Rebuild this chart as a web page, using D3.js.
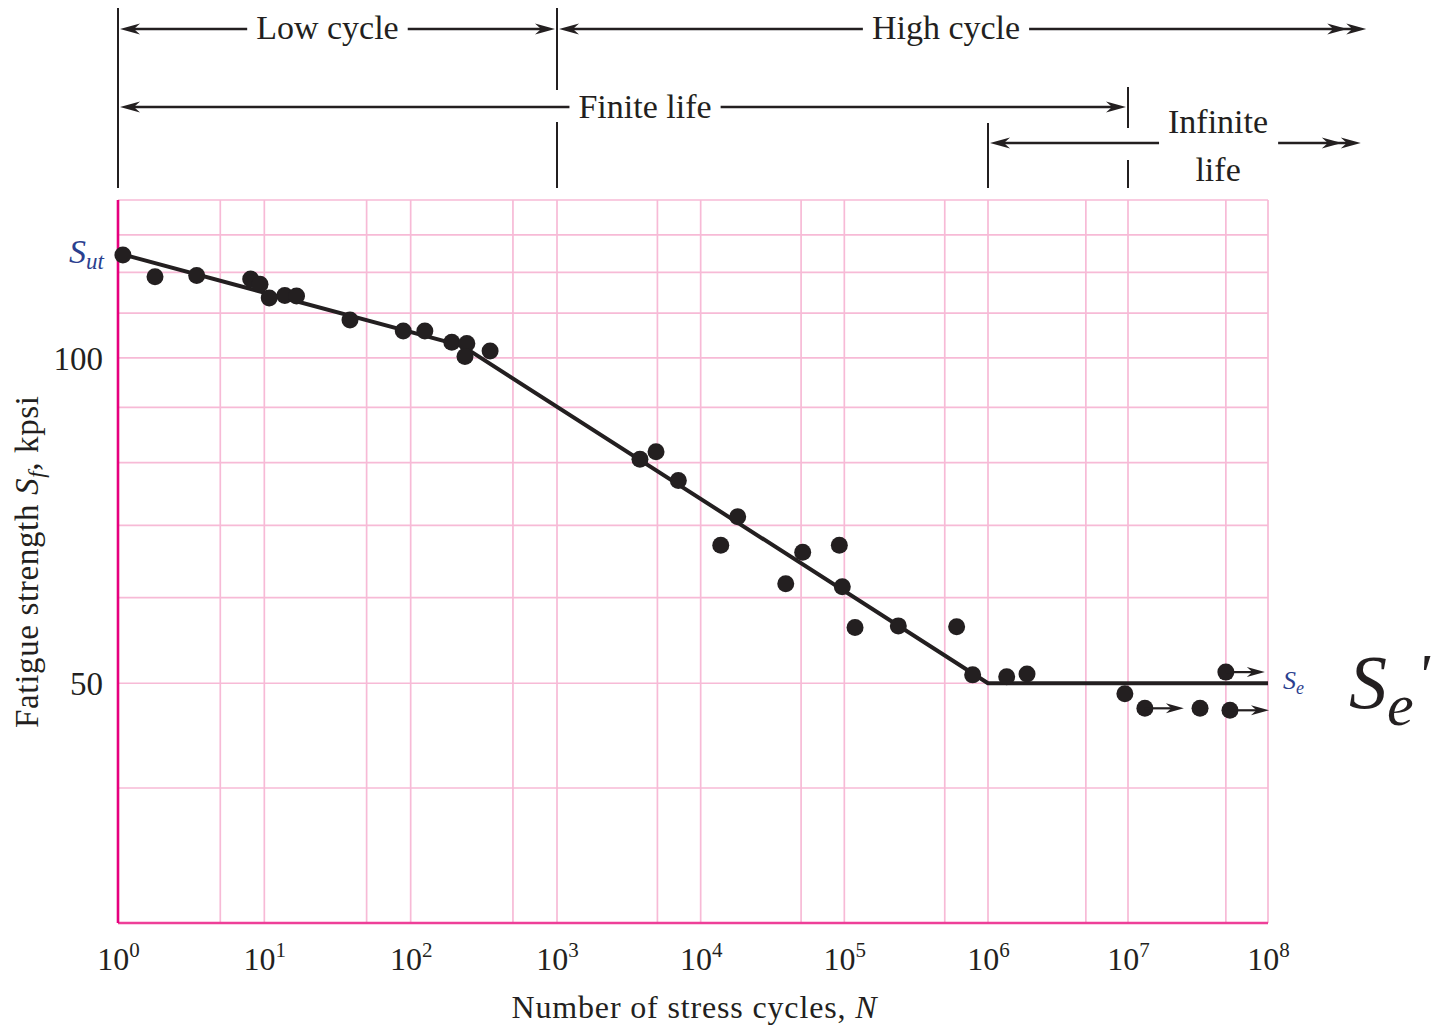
<!DOCTYPE html>
<html><head><meta charset="utf-8">
<script src="https://cdn.jsdelivr.net/npm/d3@7"></script>
<style>
body{margin:0;background:#fff}
svg text{font-family:"Liberation Serif","Times New Roman",serif;fill:#231f20}
</style>
</head><body>
<svg id="chart" width="1435" height="1027"></svg>
<script>
// ---------- data ----------
const decadeTicks   = [1, 1e1, 1e2, 1e3, 1e4, 1e5, 1e6, 1e7, 1e8];
const tickExponents = ["0","1","2","3","4","5","6","7","8"];
const minorGridN    = [5, 50, 500, 5e3, 5e4, 5e5, 5e6, 5e7];
const gridS         = [40, 50, 60, 70, 80, 90, 100, 110, 120, 130, 140];
const yTickValues   = [100, 50];
const yTickLabels   = ["100", "50"];
const Sut = 125;
const SeValue = 50;

// S-N curve vertices (N, S in kpsi)
const curveN = [1, 225, 1e6, 1e8];
const curveS = [125, 102.6, 50, 50];

// test points
const testN = [1.08, 1.79, 3.45, 8.07, 9.34, 10.8, 13.8, 16.6, 38.5, 89, 125, 191, 242, 235, 349,
               3780, 4890, 6990, 18100, 13800, 51300, 39100, 92300, 96800, 118700, 237500, 605000,
               782000, 1.36e6, 1.90e6, 9.5e6, 3.27e7];
const testS = [124.5, 118.9, 119.2, 118.3, 117.0, 113.6, 114.2, 114.1, 108.4, 105.9, 105.9, 103.4, 103.1, 100.3, 101.5,
               80.6, 81.9, 77.0, 71.3, 67.1, 66.1, 61.8, 67.1, 61.4, 56.3, 56.5, 56.4,
               50.9, 50.7, 51.0, 48.9, 47.4];
// run-outs (no failure)
const runoutN = [1.32e7, 5.0e7, 5.35e7];
const runoutS = [47.4, 51.2, 47.2];

// region annotations
const regionLabels = ["Low cycle", "High cycle", "Finite life"];
const regionStartN = [1, 1e3, 1];
const regionEndN   = [1e3, 5.2e8, 1e7];
const regionTextN  = [27, 5.1e5, 4100];
const regionDouble = [false, true, false];
const infiniteStartN = 1e6, infiniteEndN = 4.6e8, infiniteTextN = 4.4e7;

// ---------- scales ----------
const svg = d3.select("#chart");
const x = d3.scaleLog().domain([1, 1e3, 1e6, 1e8]).range([118, 557, 988, 1268]);
const y = d3.scaleLog().domain([30, 140]).range([923, 200]);
const ink = "#231f20";
const serif = "Liberation Serif";

// ---------- grid ----------
const grid = svg.append("g");
grid.selectAll("line.v").data(decadeTicks.concat(minorGridN)).join("line")
  .attr("x1", d => x(d)).attr("x2", d => x(d))
  .attr("y1", y(30)).attr("y2", y(140))
  .attr("stroke", "#f7bad6").attr("stroke-width", 1.7);
grid.selectAll("line.h").data(gridS).join("line")
  .attr("x1", x(1)).attr("x2", x(1e8))
  .attr("y1", d => y(d)).attr("y2", d => y(d))
  .attr("stroke", "#f7bad6").attr("stroke-width", 1.7);
// axis lines
svg.append("line").attr("x1", x(1)).attr("x2", x(1e8)).attr("y1", y(30)).attr("y2", y(30))
  .attr("stroke", "#ee3f98").attr("stroke-width", 2.6);
svg.append("line").attr("x1", x(1)).attr("x2", x(1)).attr("y1", y(140)).attr("y2", y(30))
  .attr("stroke", "#e6007e").attr("stroke-width", 2.6);

// ---------- axes ----------
const xAxis = svg.append("g").attr("transform", `translate(0,${y(30)})`)
  .call(d3.axisBottom(x).tickValues(decadeTicks).tickSize(0).tickFormat(""));
xAxis.select(".domain").remove();
xAxis.selectAll(".tick text").each(function(d, i) {
  const t = d3.select(this);
  t.attr("y", 47).attr("dy", null).attr("font-size", 32)
   .attr("font-family", serif).attr("fill", ink);
  t.append("tspan").text("10");
  t.append("tspan").attr("dy", -13).attr("font-size", 21).text(tickExponents[i]);
});

const yAxis = svg.append("g").attr("transform", `translate(${x(1)},0)`)
  .call(d3.axisLeft(y).tickValues(yTickValues).tickSize(0).tickPadding(15)
        .tickFormat((d, i) => yTickLabels[i]));
yAxis.select(".domain").remove();
yAxis.selectAll(".tick text").attr("font-size", 33).attr("font-family", serif)
  .attr("fill", ink).attr("dy", "0.35em");

// S_ut label
const sut = svg.append("text").attr("x", x(1) - 14).attr("y", y(Sut) + 10)
  .attr("text-anchor", "end").attr("font-style", "italic");
sut.append("tspan").attr("font-size", 34).style("fill", "#2b3f8f").text("S");
sut.append("tspan").attr("font-size", 23).attr("dy", 6).style("fill", "#2b3f8f").text("ut");

// axis titles
const xt = svg.append("text").attr("x", 694).attr("y", 1018).attr("text-anchor", "middle")
  .attr("font-size", 32).attr("textLength", 365).attr("lengthAdjust", "spacing");
xt.append("tspan").text("Number of stress cycles, ");
xt.append("tspan").attr("font-style", "italic").text("N");

const yt = svg.append("text").attr("transform", "translate(38,562) rotate(-90)")
  .attr("text-anchor", "middle").attr("font-size", 33)
  .attr("textLength", 332).attr("lengthAdjust", "spacing");
yt.append("tspan").text("Fatigue strength ");
yt.append("tspan").attr("font-style", "italic").text("S");
yt.append("tspan").attr("font-style", "italic").attr("font-size", 23).attr("dy", 6).text("f");
yt.append("tspan").attr("dy", -6).text(", kpsi");

// ---------- curve ----------
const curve = curveN.map((n, i) => [n, curveS[i]]);
svg.append("path").datum(curve)
  .attr("d", d3.line().x(d => x(d[0])).y(d => y(d[1])))
  .attr("fill", "none").attr("stroke", ink).attr("stroke-width", 4).attr("stroke-linejoin", "round");

// ---------- points ----------
const R = 8.5;
svg.append("g").selectAll("circle").data(testN.map((n, i) => [n, testS[i]])).join("circle")
  .attr("cx", d => x(d[0])).attr("cy", d => y(d[1])).attr("r", R).attr("fill", ink);

function head(g, tx, ty, dir, L, W) {
  g.append("path")
    .attr("d", `M${tx},${ty} L${tx - dir * L},${ty - W} L${tx - dir * L * 0.7},${ty} L${tx - dir * L},${ty + W} Z`)
    .attr("fill", ink);
}
const ro = svg.append("g");
runoutN.forEach((n, i) => {
  const cx = x(n), cy = y(runoutS[i]);
  ro.append("circle").attr("cx", cx).attr("cy", cy).attr("r", R).attr("fill", ink);
  ro.append("line").attr("x1", cx).attr("x2", cx + 30).attr("y1", cy).attr("y2", cy)
    .attr("stroke", ink).attr("stroke-width", 2.2);
  head(ro, cx + 39, cy, 1, 18, 5);
});

// S_e labels
const se = svg.append("text").attr("x", 1283).attr("y", y(SeValue) + 6).attr("font-style", "italic");
se.append("tspan").attr("font-size", 26).style("fill", "#2b3f8f").text("S");
se.append("tspan").attr("font-size", 18).attr("dy", 5).style("fill", "#2b3f8f").text("e");

const sep = svg.append("text").attr("x", 1349).attr("y", 708)
  .attr("font-style", "italic").attr("font-family", serif).style("font-family", serif);
sep.append("tspan").attr("font-size", 76).text("S");
sep.append("tspan").attr("font-size", 60).attr("dy", 17).text("e");
sep.append("tspan").attr("font-size", 60).attr("dy", -30).attr("dx", 3).text("'");

// ---------- region annotations ----------
const ann = svg.append("g");
function vline(xp, y1, y2) {
  ann.append("line").attr("x1", xp).attr("x2", xp).attr("y1", y1).attr("y2", y2)
    .attr("stroke", ink).attr("stroke-width", 2);
}
vline(x(1), 8, 188);
vline(x(1e3), 8, 90); vline(x(1e3), 122, 188);
vline(x(1e6), 123, 188);
vline(x(1e7), 87, 128); vline(x(1e7), 160, 188);

function hseg(x1, x2, yy) {
  ann.append("line").attr("x1", x1).attr("x2", x2).attr("y1", yy).attr("y2", yy)
    .attr("stroke", ink).attr("stroke-width", 2.3);
}
const rowY = [29, 29, 107];
const rowBase = [39, 39, 118];
regionLabels.forEach((lab, i) => {
  const t = ann.append("text").attr("x", x(regionTextN[i])).attr("y", rowBase[i])
    .attr("text-anchor", "middle").attr("font-size", 34).text(lab);
  const w = t.node().getComputedTextLength();
  const cx = x(regionTextN[i]);
  const xs = x(regionStartN[i]) + 2, xe = x(regionEndN[i]) - 2;
  hseg(xs + 8, cx - w / 2 - 9, rowY[i]);
  hseg(cx + w / 2 + 9, xe - 8, rowY[i]);
  head(ann, xs, rowY[i], -1, 20, 5.5);
  head(ann, xe, rowY[i], 1, 20, 5.5);
  if (regionDouble[i]) head(ann, xe - 19, rowY[i], 1, 20, 5.5);
});

// infinite life
const ix = x(infiniteTextN);
const it1 = ann.append("text").attr("x", ix).attr("y", 133).attr("text-anchor", "middle")
  .attr("font-size", 34).text("Infinite");
ann.append("text").attr("x", ix).attr("y", 181).attr("text-anchor", "middle")
  .attr("font-size", 34).text("life");
const iw = it1.node().getComputedTextLength();
const iy = 143;
const ixs = x(infiniteStartN) + 2, ixe = x(infiniteEndN);
hseg(ixs + 8, ix - iw / 2 - 9, iy);
hseg(ix + iw / 2 + 10, ixe - 8, iy);
head(ann, ixs, iy, -1, 20, 5.5);
head(ann, ixe, iy, 1, 20, 5.5);
head(ann, ixe - 19, iy, 1, 20, 5.5);
</script>
</body></html>
